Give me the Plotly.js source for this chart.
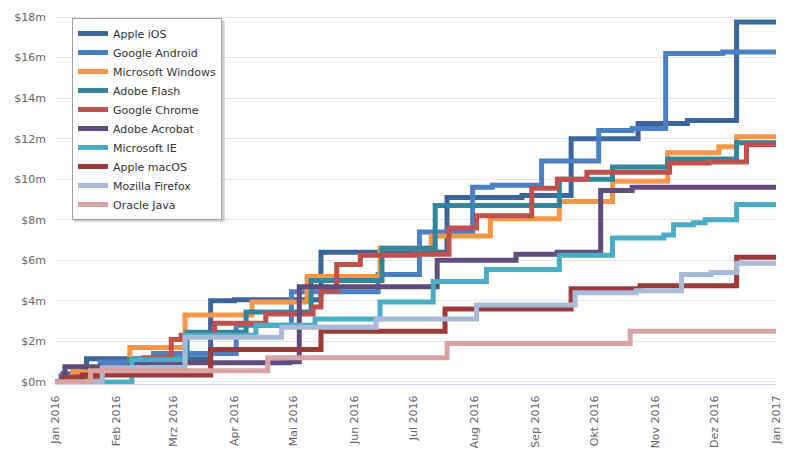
<!DOCTYPE html>
<html>
<head>
<meta charset="utf-8">
<script src="https://cdn.plot.ly/plotly-3.0.1.min.js"></script>
<style>
  html, body { margin: 0; padding: 0; background: #ffffff; }
  #chart { width: 800px; height: 450px; }
</style>
</head>
<body>
<div id="chart"></div>
<script>
// ---- Data (values in millions of USD, cumulative, step lines) ----
const seriesNames = ["Apple iOS", "Google Android", "Microsoft Windows", "Adobe Flash", "Google Chrome",
  "Adobe Acrobat", "Microsoft IE", "Apple macOS", "Mozilla Firefox", "Oracle Java"];

const iosDates = ["2016-01-01","2016-01-05","2016-01-17","2016-03-20","2016-04-01","2016-05-15","2016-07-18","2016-08-25","2016-09-19","2016-10-23","2016-11-17","2016-12-12","2017-01-01"];
const iosValues = [0, 0.4, 1.15, 4.0, 4.05, 6.4, 9.1, 9.2, 12.0, 12.75, 12.9, 17.75, 17.75];

const androidDates = ["2016-01-01","2016-01-04","2016-01-24","2016-02-20","2016-04-02","2016-04-30","2016-06-13","2016-07-04","2016-07-31","2016-08-10","2016-09-04","2016-10-03","2016-10-20","2016-11-06","2016-12-05","2017-01-01"];
const androidValues = [0, 0.3, 1.0, 1.4, 2.8, 4.45, 5.3, 7.4, 9.6, 9.7, 10.9, 12.4, 12.5, 16.2, 16.27, 16.27];

const windowsDates = ["2016-01-01","2016-01-10","2016-02-08","2016-03-07","2016-04-10","2016-05-08","2016-06-14","2016-07-10","2016-08-09","2016-09-13","2016-10-10","2016-11-07","2016-12-03","2016-12-12","2017-01-01"];
const windowsValues = [0, 0.5, 1.7, 3.3, 3.95, 5.2, 6.6, 7.2, 8.05, 8.9, 9.9, 11.3, 11.6, 12.1, 12.1];

const flashDates = ["2016-01-01","2016-01-20","2016-02-08","2016-03-08","2016-04-07","2016-05-10","2016-06-15","2016-07-12","2016-09-13","2016-10-10","2016-11-07","2016-12-12","2017-01-01"];
const flashValues = [0, 0.4, 1.1, 2.45, 3.45, 5.0, 6.6, 8.7, 10.0, 10.6, 11.0, 11.8, 11.8];

const chromeDates = ["2016-01-01","2016-01-05","2016-01-25","2016-02-15","2016-02-29","2016-03-05","2016-03-22","2016-04-17","2016-05-11","2016-05-15","2016-05-23","2016-06-04","2016-07-02","2016-07-19","2016-08-02","2016-08-30","2016-09-12","2016-09-27","2016-11-08","2016-11-28","2016-12-17","2017-01-01"];
const chromeValues = [0, 0.25, 0.6, 1.2, 2.1, 2.3, 2.9, 3.35, 3.7, 4.5, 5.8, 6.25, 6.3, 7.6, 8.2, 9.55, 10.0, 10.35, 10.8, 10.85, 11.7, 11.7];

const acrobatDates = ["2016-01-01","2016-01-06","2016-02-10","2016-04-29","2016-05-04","2016-07-13","2016-08-22","2016-09-12","2016-10-04","2016-10-20","2017-01-01"];
const acrobatValues = [0, 0.75, 0.95, 1.0, 4.7, 6.0, 6.3, 6.4, 9.45, 9.6, 9.6];

const ieDates = ["2016-01-01","2016-02-09","2016-03-07","2016-04-12","2016-05-12","2016-06-14","2016-07-11","2016-08-07","2016-09-13","2016-10-10","2016-11-05","2016-11-10","2016-11-20","2016-11-26","2016-12-12","2017-01-01"];
const ieValues = [0, 1.1, 2.3, 2.8, 3.1, 3.95, 4.95, 5.55, 6.25, 7.1, 7.25, 7.75, 7.85, 8.0, 8.75, 8.75];

const macosDates = ["2016-01-01","2016-01-05","2016-01-15","2016-03-20","2016-05-15","2016-07-17","2016-09-19","2016-10-24","2016-12-12","2017-01-01"];
const macosValues = [0, 0.2, 0.35, 1.6, 2.5, 3.6, 4.6, 4.75, 6.15, 6.15];

const firefoxDates = ["2016-01-01","2016-01-25","2016-03-07","2016-04-25","2016-06-12","2016-08-02","2016-09-21","2016-10-22","2016-11-14","2016-11-29","2016-12-12","2017-01-01"];
const firefoxValues = [0, 0.7, 2.2, 2.7, 3.1, 3.8, 4.4, 4.5, 5.3, 5.4, 5.85, 5.85];

const javaDates = ["2016-01-01","2016-01-19","2016-04-18","2016-07-18","2016-10-19","2017-01-01"];
const javaValues = [0, 0.55, 1.2, 1.9, 2.5, 2.5];

const seriesColors = ["#3b6699", "#4b80c2", "#f79646", "#31869c", "#c0504d",
  "#624b7d", "#4bacc6", "#9b3b39", "#a9bad9", "#d9a3a1"];

const xTickVals = ["2016-01-01","2016-02-01","2016-03-01","2016-04-01","2016-05-01","2016-06-01","2016-07-01","2016-08-01","2016-09-01","2016-10-01","2016-11-01","2016-12-01","2017-01-01"];
const xTickText = ["Jan 2016","Feb 2016","Mrz 2016","Apr 2016","Mai 2016","Jun 2016","Jul 2016","Aug 2016","Sep 2016","Okt 2016","Nov 2016","Dez 2016","Jan 2017"];
const yTickVals = [0, 2, 4, 6, 8, 10, 12, 14, 16, 18];
const yTickText = ["$0m","$2m","$4m","$6m","$8m","$10m","$12m","$14m","$16m","$18m"];

const allDates = [iosDates, androidDates, windowsDates, flashDates, chromeDates, acrobatDates, ieDates, macosDates, firefoxDates, javaDates];
const allValues = [iosValues, androidValues, windowsValues, flashValues, chromeValues, acrobatValues, ieValues, macosValues, firefoxValues, javaValues];

const traces = seriesNames.map((name, i) => ({
  type: "scatter",
  mode: "lines",
  name: name,
  x: allDates[i],
  y: allValues[i],
  line: { shape: "hv", color: seriesColors[i], width: 5 },
  hoverinfo: "skip"
}));

const font = "DejaVu Sans, sans-serif";

// plot area in pixels: x 55..776, y 15..384
function px(x) { return (x - 55) / 721; }
function py(y) { return (384 - y) / 369; }

const layout = {
  width: 800,
  height: 450,
  margin: { l: 55, r: 24, t: 15, b: 66 },
  paper_bgcolor: "#ffffff",
  plot_bgcolor: "#ffffff",
  showlegend: true,
  legend: {
    x: px(72), y: py(18), xanchor: "left", yanchor: "top",
    bgcolor: "#ffffff", bordercolor: "#a0a0a0", borderwidth: 1,
    font: { family: font, size: 11, color: "#333333" },
    itemwidth: 30
  },
  shapes: [
    { type: "rect", xref: "paper", yref: "paper", layer: "above",
      x0: px(73), x1: px(225), y0: py(20), y1: py(222),
      fillcolor: "rgba(0,0,0,0.07)", line: { width: 0 } },
    { type: "rect", xref: "paper", yref: "paper", layer: "above",
      x0: px(74), x1: px(224.5), y0: py(21), y1: py(221.5),
      fillcolor: "rgba(0,0,0,0.12)", line: { width: 0 } }
  ],
  xaxis: {
    type: "date",
    range: ["2016-01-01", "2017-01-01"],
    tickvals: xTickVals,
    ticktext: xTickText,
    tickangle: -90,
    tickfont: { family: font, size: 11, color: "#666666" },
    showgrid: false,
    showline: true,
    linecolor: "#ccd6eb",
    linewidth: 1,
    ticks: "",
    ticklabelstandoff: 6,
    zeroline: false,
    fixedrange: true
  },
  yaxis: {
    range: [-0.1, 18.1],
    tickvals: yTickVals,
    ticktext: yTickText,
    tickfont: { family: font, size: 11, color: "#666666" },
    showgrid: true,
    gridcolor: "#e6e6e6",
    gridwidth: 1,
    showline: false,
    zeroline: false,
    ticks: "",
    ticklabelstandoff: 8,
    fixedrange: true
  }
};

Plotly.newPlot("chart", traces, layout, { displayModeBar: false, staticPlot: true });
</script>
</body>
</html>
